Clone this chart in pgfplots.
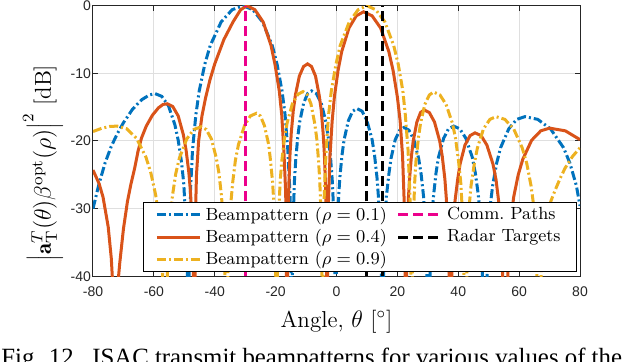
\documentclass[border=0pt]{standalone}
\usepackage{fontspec}
\usepackage{pgfplots}
\pgfplotsset{compat=1.18}
\newfontfamily\ticksf{Liberation Sans}
\newfontfamily\capfont{Liberation Serif}
\definecolor{mblue}{rgb}{0,0.447,0.741}
\definecolor{morange}{rgb}{0.85,0.325,0.098}
\definecolor{myellow}{rgb}{0.929,0.694,0.125}
\definecolor{axgray}{rgb}{0.15,0.15,0.15}
\definecolor{gridgray}{rgb}{0.875,0.875,0.875}
\tikzset{
  dashdot/.style={dash pattern=on 4.5pt off 1.5pt on 1pt off 1.5pt},
  mdash/.style={dash pattern=on 5pt off 2.5pt},
}
\begin{document}
\begin{tikzpicture}
\begin{axis}[
  scale only axis, width=243.5pt, height=135.3pt,
  at={(0,0)}, anchor=south west,
  xmin=-80, xmax=80, ymin=-40, ymax=0,
  xtick={-80,-60,-40,-20,0,20,40,60,80},
  xticklabels={-80,-60,-40,-20,0,20,40,60,80},
  ytick={-40,-30,-20,-10,0},
  yticklabels={-40,-30,-20,-10,0},
  tick label style={font=\ticksf\fontsize{7}{8}\selectfont, text=axgray},
  xticklabel style={yshift=-1.5pt},
  yticklabel style={xshift=2.5pt},
  major tick length=2.5pt,
  tick style={color=axgray, line width=0.5pt},
  axis line style={color=axgray, line width=0.5pt},
  grid=major,
  major grid style={color=gridgray, line width=0.5pt},
  xlabel={Angle, $\theta$ [$^\circ$]},
  label style={font=\fontsize{11.5}{13}\selectfont},
  legend columns=2,
  legend cell align=left,
  legend style={at={(0.994,0.016)}, anchor=south east,
    font=\fontsize{8.8}{10}\selectfont, draw=black, line width=0.5pt,
    inner xsep=6pt, inner ysep=0pt, row sep=-1pt,
    /tikz/every even column/.append style={column sep=3pt}},
  legend image code/.code={\draw[#1] (0cm,0cm) -- (0.76cm,0cm);},
]
% rho = 0.1
\addplot[forget plot, mblue, line width=1.5pt, dashdot] coordinates {
(-80,-30) (-78,-26.3) (-76,-23.2) (-74,-20.8) (-72,-18.9) (-70,-17.3) (-67,-15.3) (-64,-13.9) (-61.5,-13.2) (-59.6,-13.0)
(-57.4,-13.4) (-55.2,-14.8) (-53.1,-17.6) (-52.0,-19.9) (-50.9,-23.2) (-50.2,-26.2) (-49.6,-31.0) (-49.1,-37.0) (-48.9,-43.1) (-48.7,-60)
(-48.3,-33.8) (-48.0,-27.6) (-47.3,-21.3) (-46.2,-16.1) (-45.1,-12.6) (-43.3,-8.7) (-41.5,-5.9) (-37.9,-2.4) (-34.3,-0.6) (-30.7,0)
(-27.5,-0.6) (-24.3,-2.4) (-21.1,-5.9) (-19.5,-8.7) (-17.9,-12.6) (-16.9,-16.1) (-16.0,-21.3) (-15.3,-27.6) (-15.0,-33.8) (-14.7,-60)
(-14.44,-36.6) (-14.18,-30.6) (-13.8,-25.8) (-13.4,-22.8) (-12.75,-19.5) (-12.1,-17.2) (-10.8,-14.4) (-9.5,-13.0) (-8.2,-12.6)
(-6.6,-13.0) (-5.0,-14.4) (-3.5,-17.2) (-2.7,-19.5) (-1.9,-22.8) (-1.4,-25.8) (-0.9,-30.6) (-0.6,-36.6) (-0.3,-60)
(0.0,-39.2) (0.26,-33.2) (0.68,-28.4) (1.1,-25.4) (1.8,-22.1) (2.5,-19.8) (3.9,-17.0) (5.3,-15.6) (6.7,-15.2)
(8.4,-15.6) (10.0,-17.0) (11.7,-19.8) (12.5,-22.1) (13.3,-25.4) (13.8,-28.4) (14.3,-33.2) (14.7,-39.2) (15.0,-60)
(15.6,-36.0) (16.0,-31.2) (16.4,-28.2) (17.2,-24.9) (17.9,-22.6) (19.3,-19.8) (20.8,-18.4) (22.2,-18.0)
(23.8,-18.4) (25.4,-19.8) (27.0,-22.6) (27.8,-24.9) (28.6,-28.2) (29.1,-31.2) (29.6,-36.0) (30.2,-60)
(30.9,-35.8) (31.4,-31.0) (31.9,-28.0) (32.7,-24.7) (33.5,-22.4) (35.2,-19.6) (36.8,-18.2) (38.5,-17.8)
(40.5,-18.2) (42.5,-19.6) (44.6,-22.4) (45.6,-24.7) (46.6,-28.0) (47.2,-31.0) (47.8,-35.8) (48.6,-60)
(49.7,-34.4) (50.5,-29.6) (51.3,-26.6) (52.6,-23.3) (53.9,-21.0) (56.6,-18.2) (59.2,-16.8) (61.9,-16.4)
(66.1,-16.8) (70.3,-18.2) (74.6,-21.0) (76.7,-23.3) (78.8,-26.6) (80,-29.6)
};
% rho = 0.4
\addplot[forget plot, morange, line width=1.5pt] coordinates {
(-80,-24.3) (-78,-26.3) (-76.7,-28.3) (-75,-32.7) (-74,-37.3) (-73.4,-42.1) (-72.5,-60)
(-71.8,-41) (-71.2,-38) (-70,-33) (-68.7,-29) (-67.5,-26.3) (-66.3,-24) (-65.2,-21.5) (-64.1,-19.6) (-62.5,-17.8) (-60.5,-16.2) (-58.5,-15.1) (-57,-14.6) (-55.6,-14.5)
(-53.8,-14.9) (-52.0,-16.3) (-50.3,-19.1) (-49.4,-21.4) (-48.5,-24.7) (-47.95,-27.7) (-47.4,-32.5) (-47.06,-38.5) (-46.7,-60)
(-46.4,-32) (-46.0,-25) (-45.3,-20) (-44.2,-16.3) (-43,-13.6) (-41.6,-11) (-40,-8.6) (-37,-5.0) (-34,-2.4) (-31.5,-0.6) (-29.4,0)
(-26.8,-0.6) (-24.1,-2.4) (-21.5,-5.9) (-20.2,-8.7) (-18.8,-12.6) (-18.0,-16.1) (-17.3,-21.3) (-16.7,-27.6) (-16.5,-33.8) (-16.2,-60)
(-16.07,-38.7) (-15.93,-32.6) (-15.66,-26.6) (-15.26,-21.8) (-14.86,-18.8) (-14.2,-15.5) (-13.5,-13.2) (-12.2,-10.4) (-10.84,-9.0) (-9.5,-8.6)
(-8.2,-9.0) (-6.9,-10.4) (-5.7,-13.2) (-5.0,-15.5) (-4.4,-18.8) (-4.0,-21.8) (-3.6,-26.6) (-3.36,-32.6) (-3.23,-38.7) (-3.1,-60)
(-2.86,-34.7) (-2.62,-28.5) (-2.14,-22.2) (-1.42,-17.0) (-0.7,-13.5) (0.5,-9.6) (1.7,-6.8) (4.1,-3.3) (6.5,-1.5) (8.9,-0.9)
(11.7,-1.5) (14.5,-3.3) (17.2,-6.8) (18.6,-9.6) (20.0,-13.5) (20.9,-17.0) (21.7,-22.2) (22.2,-28.5) (22.5,-34.7) (22.8,-60)
(23.04,-39.4) (23.3,-33.4) (23.6,-28.6) (24.0,-25.6) (24.6,-22.3) (25.2,-20.0) (26.4,-17.2) (27.6,-15.8) (28.8,-15.4)
(30.5,-15.8) (32.2,-17.2) (33.9,-20.0) (34.75,-22.3) (35.6,-25.6) (36.1,-28.6) (36.6,-33.4) (36.96,-39.4) (37.3,-60)
(37.96,-36.8) (38.4,-32.0) (38.9,-29.0) (39.8,-25.7) (40.6,-23.4) (42.2,-20.6) (43.9,-19.2) (45.5,-18.8)
(47.5,-19.2) (49.4,-20.6) (51.4,-23.4) (52.4,-25.7) (53.3,-29.0) (53.9,-32.0) (54.5,-36.8) (55.3,-60)
(56.5,-36.1) (57.4,-31.3) (58.2,-28.3) (59.7,-25.0) (61.2,-22.7) (64.1,-19.9) (67.1,-18.5) (70.0,-18.1) (75.2,-18.5) (80,-19.8)
};
% rho = 0.9
\addplot[forget plot, myellow, line width=1.5pt, dashdot] coordinates {
(-80,-18.6) (-77,-18.1) (-74.5,-17.85) (-72,-17.8)
(-68.9,-18.2) (-65.7,-19.6) (-62.6,-22.4) (-61.0,-24.7) (-59.4,-28.0) (-58.5,-31.0) (-57.6,-35.8) (-56.9,-41.8) (-56.3,-60)
(-55.4,-35.9) (-54.6,-31.1) (-53.9,-28.1) (-52.8,-24.8) (-51.6,-22.5) (-49.2,-19.7) (-46.9,-18.3) (-44.5,-17.9)
(-42.8,-18.3) (-41.1,-19.7) (-39.5,-22.5) (-38.6,-24.8) (-37.8,-28.1) (-37.3,-31.1) (-36.8,-35.9) (-36.1,-60)
(-35.7,-39.9) (-35.3,-33.9) (-34.7,-29.1) (-34.1,-26.1) (-33.2,-22.8) (-32.2,-20.5) (-30.2,-17.7) (-28.3,-16.3) (-26.3,-15.9)
(-25.0,-16.3) (-23.7,-17.7) (-22.3,-20.5) (-21.7,-22.8) (-21.0,-26.1) (-20.6,-29.1) (-20.2,-33.9) (-19.96,-39.9) (-19.7,-60)
(-19.35,-36.7) (-19.0,-30.7) (-18.5,-25.9) (-17.96,-22.9) (-17.1,-19.6) (-16.2,-17.3) (-14.5,-14.5) (-12.7,-13.1) (-11.0,-12.7)
(-9.7,-13.1) (-8.4,-14.5) (-7.2,-17.3) (-6.5,-19.6) (-5.9,-22.9) (-5.5,-25.9) (-5.1,-30.7) (-4.86,-36.7) (-4.6,-60)
(-4.3,-33.8) (-4.0,-27.6) (-3.4,-21.3) (-2.6,-16.1) (-1.7,-12.6) (-0.2,-8.7) (1.2,-5.9) (4.2,-2.4) (7.1,-0.6) (10.0,0)
(12.9,-0.6) (15.9,-2.4) (18.8,-5.9) (20.3,-8.7) (21.8,-12.6) (22.6,-16.1) (23.5,-21.3) (24.1,-27.6) (24.4,-33.8) (24.7,-60)
(24.99,-36.8) (25.3,-30.8) (25.7,-26.0) (26.1,-23.0) (26.9,-19.6) (27.6,-17.4) (29.0,-14.6) (30.5,-13.2) (31.9,-12.75)
(34.0,-13.2) (36.0,-14.6) (38.1,-17.4) (39.1,-19.6) (40.1,-23.0) (40.8,-26.0) (41.4,-30.8) (41.8,-36.8) (42.2,-60)
(43.0,-34.4) (43.6,-29.6) (44.2,-26.6) (45.3,-23.3) (46.3,-21.0) (48.3,-18.2) (50.4,-16.8) (52.4,-16.4)
(55.3,-16.8) (58.2,-18.2) (61.0,-21.0) (62.5,-23.3) (63.9,-26.6) (64.8,-29.6) (65.6,-34.4) (66.8,-60)
(67.3,-38) (68,-34) (69,-31) (70.5,-28.8) (71.8,-27.3) (73.5,-25.5) (75.1,-24.0) (77.5,-22.3) (80,-21.0)
};
% comm. path and radar targets
\addplot[forget plot, magenta, line width=1.5pt, mdash] coordinates {(-30,-40) (-30,0)};
\addplot[forget plot, black, line width=1.5pt, mdash] coordinates {(10,-40) (10,0)};
\addplot[forget plot, black, line width=1.5pt, mdash] coordinates {(15,-40) (15,0)};
% legend (column-wise order as in the figure)
\addlegendimage{mblue, line width=1.5pt, dashdot}
\addlegendentry{Beampattern ($\rho=0.1$)}
\addlegendimage{magenta, line width=1.5pt, mdash}
\addlegendentry{Comm.\ Paths}
\addlegendimage{morange, line width=1.5pt}
\addlegendentry{Beampattern ($\rho=0.4$)}
\addlegendimage{black, line width=1.5pt, mdash}
\addlegendentry{Radar Targets}
\addlegendimage{myellow, line width=1.5pt, dashdot}
\addlegendentry{Beampattern ($\rho=0.9$)}
\end{axis}
% y label
\node[rotate=90, anchor=center, font=\fontsize{11.5}{13}\selectfont]
  at ([shift={(-25pt,-11pt)}]current axis.west)
  {$\left|\mathbf{a}_{\mathrm{T}}^{T}(\theta)\beta^{\mathrm{opt}}(\rho)\right|^{2}$ [dB]};
\node[anchor=base west, inner sep=0pt, font=\capfont\fontsize{12.4}{13}\selectfont]
  at ([shift={(-46pt,-44.4pt)}]current axis.south west)
  {Fig. 12.\ \ ISAC transmit beampatterns for various values of the};
\pgfresetboundingbox
\useasboundingbox ([shift={(-46.5pt,-42.85pt)}]current axis.south west)
  rectangle ([shift={(21pt,2.85pt)}]current axis.north east);
\end{tikzpicture}
\end{document}
